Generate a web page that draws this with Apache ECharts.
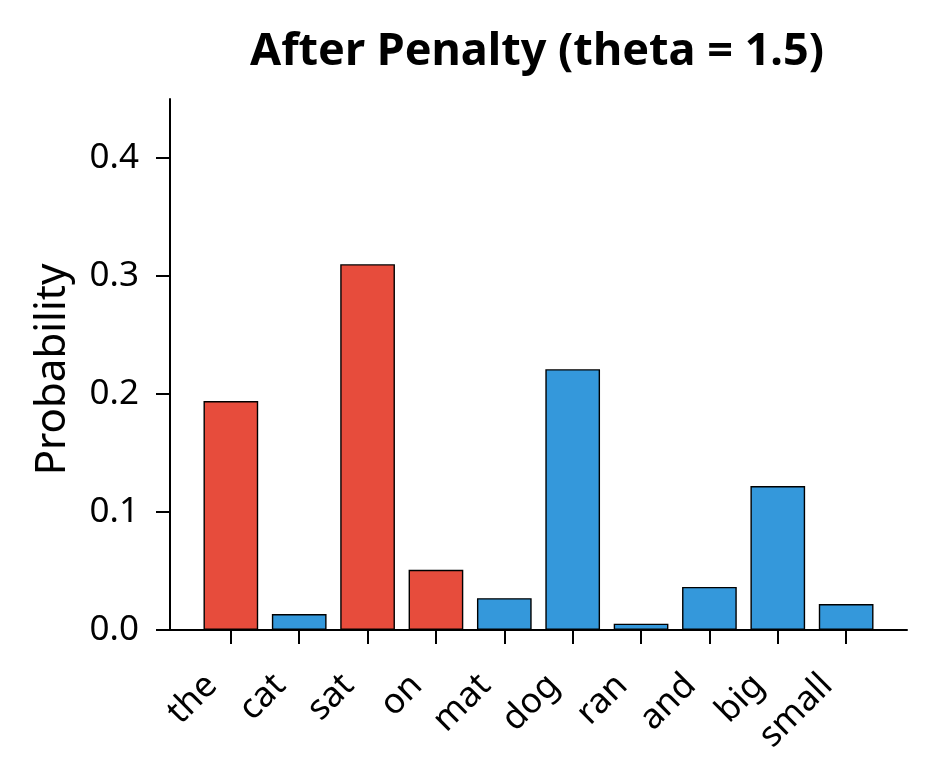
<!DOCTYPE html>
<html>
<head>
<meta charset="utf-8">
<script src="https://cdn.jsdelivr.net/npm/echarts@6/dist/echarts.min.js"></script>
<style>
  html, body { margin: 0; padding: 0; background: #fff; }
  #chart { width: 934px; height: 784px; }
</style>
</head>
<body>
<div id="chart"></div>
<script>
// tokens and their probabilities after the penalty
const tokens = ['the', 'cat', 'sat', 'on', 'mat', 'dog', 'ran', 'and', 'big', 'small'];
const probs = [0.194, 0.0135, 0.310, 0.051, 0.027, 0.221, 0.0054, 0.0365, 0.122, 0.022];
// penalised tokens drawn red
const penalised = [true, false, true, true, false, false, false, false, false, false];
const yTicks = [0, 0.1, 0.2, 0.3, 0.4];

const RED = '#e74c3c';
const BLUE = '#3498db';
const FONT = 'Noto Sans';

const chart = echarts.init(document.getElementById('chart'), null, { renderer: 'canvas' });

const tickPositions = tokens.map((t, i) => i);

const option = {
    backgroundColor: '#ffffff',
    animation: false,
    title: {
        text: 'After Penalty (theta = 1.5)',
        left: 532,
        top: 25,
        textAlign: 'center',
        textStyle: {
            fontFamily: FONT,
            fontWeight: 'bold',
            fontSize: 45,
            color: '#000'
        }
    },
    grid: {
        left: 170,
        right: 27,
        top: 99,
        bottom: 154,
        containLabel: false
    },
    xAxis: {
        type: 'value',
        min: -0.89,
        max: 9.89,
        splitLine: { show: false },
        axisLine: { show: true, onZero: false, lineStyle: { color: '#000', width: 2 } },
        axisTick: {
            show: true,
            customValues: tickPositions,
            length: 14,
            lineStyle: { color: '#000', width: 2 }
        },
        axisLabel: {
            customValues: tickPositions,
            rotate: 45,
            margin: 31,
            padding: [0, 27, 0, 0],
            fontFamily: FONT,
            fontSize: 35,
            color: '#000',
            formatter: v => tokens[Math.round(v)]
        }
    },
    yAxis: {
        type: 'value',
        min: 0,
        max: 0.45,
        interval: 0.1,
        name: 'Probability',
        nameLocation: 'middle',
        nameGap: 96,
        nameTextStyle: { fontFamily: FONT, fontSize: 42, color: '#000', padding: [0, 10, 0, 0] },
        splitLine: { show: false },
        axisLine: { show: true, onZero: false, lineStyle: { color: '#000', width: 2 } },
        axisTick: {
            show: true,
            length: 14,
            customValues: yTicks,
            lineStyle: { color: '#000', width: 2 }
        },
        axisLabel: {
            customValues: yTicks,
            margin: 31,
            fontFamily: FONT,
            fontSize: 35,
            color: '#000',
            formatter: v => v.toFixed(1)
        }
    },
    series: [{
        type: 'bar',
        barWidth: 54.7,
        data: probs.map((p, i) => ({
            value: [i, p],
            itemStyle: { color: penalised[i] ? RED : BLUE }
        })),
        itemStyle: { borderColor: '#000', borderWidth: 1.4 }
    }]
};

chart.setOption(option);
</script>
</body>
</html>
